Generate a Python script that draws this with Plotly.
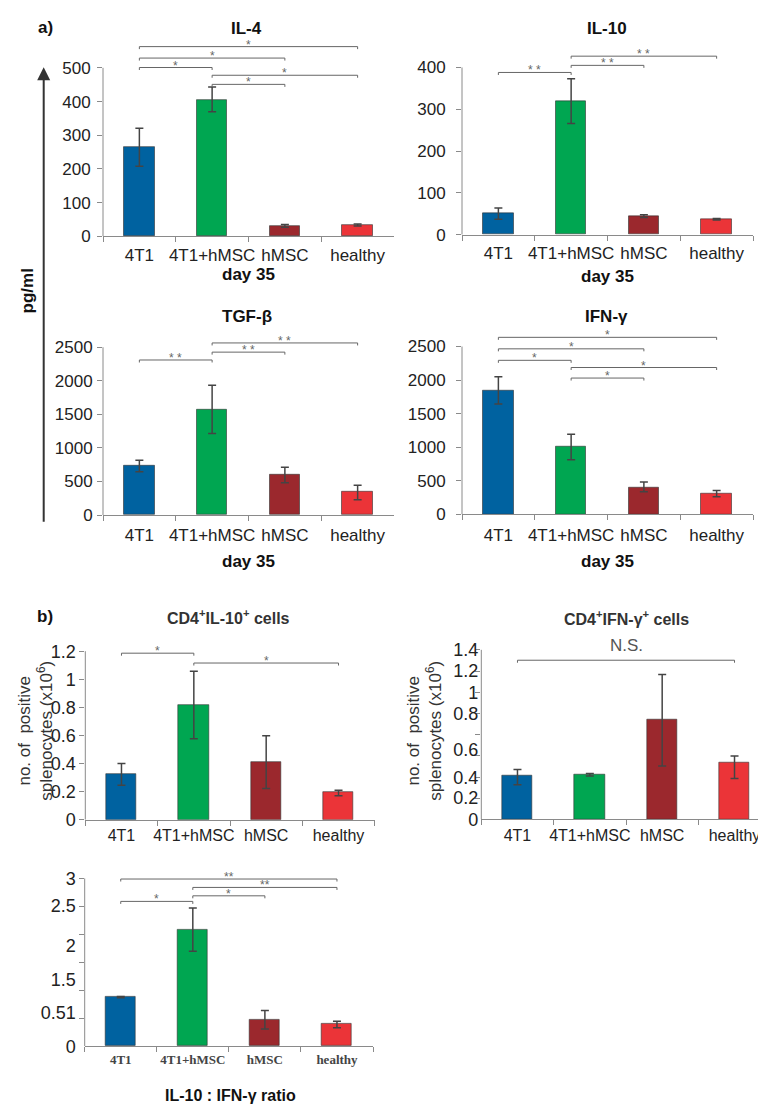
import plotly.graph_objects as go

W, H = 766, 1109

categories = ["4T1", "4T1+hMSC", "hMSC", "healthy"]
bar_colors = ["#0062a0", "#00a651", "#9b282d", "#eb3438"]

# a) serum cytokines at day 35 (pg/ml)
il4_mean = [266, 405, 31, 34]
il4_err_plus = [55, 38, 4, 3]
il4_err_minus = [58, 35, 4, 3]
il10_mean = [51, 319, 44, 37]
il10_err_plus = [13, 54, 4, 2]
il10_err_minus = [14, 53, 3, 2]
tgfb_mean = [732, 1572, 596, 342]
tgfb_err_plus = [83, 362, 117, 102]
tgfb_err_minus = [87, 356, 113, 113]
ifng_mean = [1846, 1011, 405, 312]
ifng_err_plus = [205, 185, 78, 44]
ifng_err_minus = [200, 196, 68, 48]

# b) positive splenocytes (x10^6) and ratio
cd4_il10_mean = [0.327, 0.817, 0.411, 0.194]
cd4_il10_err_plus = [0.073, 0.241, 0.187, 0.016]
cd4_il10_err_minus = [0.082, 0.240, 0.189, 0.024]
cd4_ifng_mean = [0.409, 0.421, 0.938, 0.536]
cd4_ifng_err_plus = [0.062, 0.012, 0.430, 0.062]
cd4_ifng_err_minus = [0.081, 0.012, 0.433, 0.149]
ratio_mean = [0.88, 2.085, 0.47, 0.40]
ratio_err_plus = [0.01, 0.385, 0.17, 0.05]
ratio_err_minus = [0.01, 0.385, 0.16, 0.07]

# significance brackets: (group i, group j, bracket height, label)
il4_sig = [(0, 3, 563, "*"), (0, 2, 529, "*"), (0, 1, 501, "*"), (1, 3, 478, "*"), (1, 2, 451, "*")]
il10_sig = [(0, 1, 388, "* *"), (1, 2, 405, "* *"), (1, 3, 427, "* *")]
tgfb_sig = [(0, 1, 2310, "* *"), (1, 2, 2427, "* *"), (1, 3, 2564, "* *")]
ifng_sig = [(0, 3, 2637, "*"), (0, 2, 2466, "*"), (0, 1, 2295, "*"), (1, 3, 2188, "*"), (1, 2, 2031, "*")]
cd4_il10_sig = [(0, 1, 1.186, "*"), (1, 3, 1.116, "*")]
cd4_ifng_sig = [(0, 3, 1.502, "N.S.")]
ratio_sig = [(0, 3, 2.99, "**"), (1, 3, 2.84, "**"), (1, 2, 2.69, "*"), (0, 1, 2.59, "*")]

# y tick labels
il4_ticks = [0, 100, 200, 300, 400, 500]
il10_ticks = [0, 100, 200, 300, 400]
tgfb_ticks = [0, 500, 1000, 1500, 2000, 2500]
ifng_ticks = [0, 500, 1000, 1500, 2000, 2500]
cd4_il10_tickvals = [0, 0.2, 0.4, 0.6, 0.8, 1.0, 1.2]
cd4_il10_ticktext = ["0", "0.2", "0.4", "0.6", "0.8", "1", "1.2"]
cd4_ifng_tickvals = [0, 0.201, 0.396, 0.656, 0.997, 1.198, 1.399, 1.6006]
cd4_ifng_ticktext = ["0", "0.2", "0.4", "0.6", "0.8", "1", "1.2", "1.4"]
cd4_ifng_minor = [0.2, 0.4, 0.6, 0.8, 1.0, 1.2, 1.4, 1.6]
ratio_tickvals = [0, 0.6, 1.19, 1.80, 2.51, 2.99]
ratio_ticktext = ["0", "0.51", "1.5", "2", "2.5", "3"]
ratio_minor = [0.5, 1.0, 1.5, 2.0, 2.5, 3.0]

SANS = "Liberation Sans, Arial, sans-serif"
SERIF = "Liberation Serif, Times New Roman, serif"
AXIS_GREY = "#8a8a8a"
BRACKET_GREY = "#666"


def px_x(x):
    return x / W


def px_y(y):
    return 1 - y / H


def ydom(zero_px, ref_px, ref_val, ymax):
    top_px = zero_px - ymax / ref_val * (zero_px - ref_px)
    return [px_y(zero_px), px_y(top_px)]


xfont_a = dict(family=SANS, size=17, color="#222")
xfont_b = dict(family=SANS, size=16, color="#222")
xfont_r = dict(family=SERIF, size=13, color="#444", weight="bold")

panels = [
    dict(mean=il4_mean, ep=il4_err_plus, em=il4_err_minus, sig=il4_sig, xpx=(95, 386),
         y=(224, 52.7, 500, 600), top=500, tv=il4_ticks, tt=None, minor=None,
         xfont=xfont_a, yfs=17, ystand=3, xstand=3, starfs=12),
    dict(mean=il10_mean, ep=il10_err_plus, em=il10_err_minus, sig=il10_sig, xpx=(454, 745),
         y=(222.3, 52.3, 400, 460), top=400, tv=il10_ticks, tt=None, minor=None,
         xfont=xfont_a, yfs=17, ystand=7, xstand=3, starfs=12),
    dict(mean=tgfb_mean, ep=tgfb_err_plus, em=tgfb_err_minus, sig=tgfb_sig, xpx=(95, 386),
         y=(507.3, 336.7, 2500, 2700), top=2500, tv=tgfb_ticks, tt=None, minor=None,
         xfont=xfont_a, yfs=17, ystand=1, xstand=5, starfs=12),
    dict(mean=ifng_mean, ep=ifng_err_plus, em=ifng_err_minus, sig=ifng_sig, xpx=(454, 745),
         y=(506.7, 336, 2500, 2750), top=2500, tv=ifng_ticks, tt=None, minor=None,
         xfont=xfont_a, yfs=17, ystand=7, xstand=5, starfs=12),
    dict(mean=cd4_il10_mean, ep=cd4_il10_err_plus, em=cd4_il10_err_minus, sig=cd4_il10_sig,
         xpx=(77.3, 366.7), y=(817, 645.7, 1.2, 1.3), top=1.2, tv=cd4_il10_tickvals,
         tt=cd4_il10_ticktext, minor=None, xfont=xfont_b, yfs=18, ystand=0, xstand=1, starfs=12),
    dict(mean=cd4_ifng_mean, ep=cd4_ifng_err_plus, em=cd4_ifng_err_minus, sig=cd4_ifng_sig,
         xpx=(473.3, 762.7), y=(816.7, 644.3, 1.6, 1.62), top=1.6, tv=cd4_ifng_tickvals,
         tt=cd4_ifng_ticktext, minor=cd4_ifng_minor, xfont=xfont_b, yfs=18, ystand=2, xstand=1,
         starfs=17),
    dict(mean=ratio_mean, ep=ratio_err_plus, em=ratio_err_minus, sig=ratio_sig,
         xpx=(76.7, 365), y=(1047.3, 876.7, 3, 3.1), top=3, tv=ratio_tickvals,
         tt=ratio_ticktext, minor=ratio_minor, xfont=xfont_r, yfs=18, ystand=8, xstand=1,
         starfs=12),
]

fig = go.Figure()
layout = {}
shapes = []
annotations = []

for k, p in enumerate(panels, start=1):
    sfx = "" if k == 1 else str(k)
    xa, ya = "x" + sfx, "y" + sfx
    fig.add_trace(go.Bar(
        x=categories, y=p["mean"], width=0.42,
        marker=dict(color=bar_colors, line=dict(color="rgba(50,50,50,0.6)", width=1)),
        error_y=dict(type="data", symmetric=False, array=p["ep"], arrayminus=p["em"],
                     color="#444", thickness=1.5, width=4),
        xaxis=xa, yaxis=ya, showlegend=False, hoverinfo="x+y",
    ))
    layout["xaxis" + sfx] = dict(
        domain=[px_x(p["xpx"][0]), px_x(p["xpx"][1])], anchor=ya, type="category",
        range=[-0.5, 3.5], tickson="boundaries", ticks="outside", ticklen=5,
        tickcolor=AXIS_GREY, showline=True, linecolor=AXIS_GREY, linewidth=1,
        showgrid=False, zeroline=False, tickfont=p["xfont"], ticklabelstandoff=p["xstand"],
        tickangle=0, fixedrange=True,
    )
    yax = dict(
        domain=ydom(*p["y"]), anchor=xa, range=[0, p["y"][3]], tickmode="array",
        tickvals=p["tv"], ticks="outside", ticklen=5, tickcolor=AXIS_GREY,
        showline=False, showgrid=False, zeroline=False,
        tickfont=dict(family=SANS, size=p["yfs"], color="#222"),
        ticklabelstandoff=p["ystand"], tickangle=0, fixedrange=True,
    )
    if p["tt"] is not None:
        yax["ticktext"] = p["tt"]
    if p["minor"] is not None:
        yax["ticks"] = ""
        yax["minor"] = dict(tickmode="array", tickvals=p["minor"], ticks="outside",
                            ticklen=5, tickcolor=AXIS_GREY, showgrid=False)
    layout["yaxis" + sfx] = yax

    # vertical axis line only up to the last labelled value
    shapes.append(dict(type="line", xref=xa + " domain", x0=0, x1=0, yref=ya,
                       y0=0, y1=p["top"], line=dict(color=AXIS_GREY, width=1)))
    # significance brackets
    for (i, j, h, lab) in p["sig"]:
        shapes.append(dict(type="line", xref=xa, x0=i, x1=j, yref=ya, y0=h, y1=h,
                           line=dict(color=BRACKET_GREY, width=1)))
        for c in (i, j):
            shapes.append(dict(type="line", xref=xa, x0=c, x1=c, yref=ya,
                               ysizemode="pixel", yanchor=h, y0=-2.5, y1=0,
                               line=dict(color=BRACKET_GREY, width=1)))
        if lab == "N.S.":
            annotations.append(dict(xref=xa, yref=ya, x=(i + j) / 2, y=h, text=lab,
                                    showarrow=False, yanchor="bottom", yshift=3,
                                    font=dict(family=SANS, size=p["starfs"], color="#555")))
        else:
            annotations.append(dict(xref=xa, yref=ya, x=(i + j) / 2, y=h, text=lab,
                                    showarrow=False, yanchor="middle", yshift=2,
                                    font=dict(family=SANS, size=p["starfs"], color="#666")))


def txt(x, y, text, size=17, bold=True, color="#111", angle=0, family=SANS):
    annotations.append(dict(xref="paper", yref="paper", x=px_x(x), y=px_y(y), text=text,
                            showarrow=False, xanchor="center", yanchor="middle",
                            textangle=angle,
                            font=dict(family=family, size=size, color=color,
                                      weight="bold" if bold else "normal")))


txt(37, 12, "a)")
txt(238, 13, "IL-4")
txt(599, 13, "IL-10")
txt(239, 305, "TGF-β")
txt(598, 305, "IFN-γ")
txt(240, 263, "day 35")
txt(599, 265, "day 35")
txt(240, 555, "day 35")
txt(599, 555, "day 35")
txt(19, 280, "pg/ml", angle=-90)
txt(37, 610, "b)")
txt(220, 611, "CD4<sup>+</sup>IL-10<sup>+</sup> cells", size=16, color="#333")
txt(618, 612, "CD4<sup>+</sup>IFN-γ<sup>+</sup> cells", size=16, color="#333")
txt(27.5, 727, "no. of  positive<br>splenocytes (x10<sup>6</sup>)", size=17, bold=False,
    color="#333", angle=-90)
txt(416.5, 727, "no. of  positive<br>splenocytes (x10<sup>6</sup>)", size=17, bold=False,
    color="#333", angle=-90)
txt(222, 1097, "IL-10 : IFN-γ ratio", size=16)

# big pg/ml arrow
annotations.append(dict(xref="paper", yref="paper", x=px_x(35.7), y=px_y(52), text="",
                        showarrow=True, ax=0, ay=456, arrowhead=2, arrowsize=1.3,
                        arrowwidth=2, arrowcolor="#333", standoff=0))

fig.update_layout(
    width=W, height=H, margin=dict(l=0, r=0, t=0, b=0, pad=0),
    paper_bgcolor="white", plot_bgcolor="white", showlegend=False,
    shapes=shapes, annotations=annotations, bargap=0, **layout,
)

fig.write_html("out.html")
